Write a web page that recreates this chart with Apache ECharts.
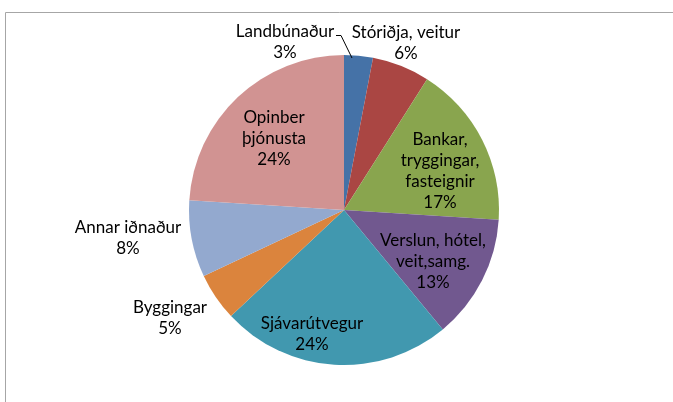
<!DOCTYPE html>
<html>
<head>
<meta charset="utf-8">
<script src="https://cdn.jsdelivr.net/npm/echarts@6/dist/echarts.min.js"></script>
<style>
  html, body { margin: 0; padding: 0; background: #fff; }
  #chart { width: 673px; height: 402px; }
</style>
</head>
<body>
<div id="chart"></div>
<script>
// categories + shares (%)
var categories = [
  'Landbúnaður',
  'Stóriðja, veitur',
  'Bankar,\ntryggingar,\nfasteignir',
  'Verslun, hótel,\nveit,samg.',
  'Sjávarútvegur',
  'Byggingar',
  'Annar iðnaður',
  'Opinber\nþjónusta'
]
var shares = [3, 6, 17, 13, 24, 5, 8, 24]

var colors = ['#4572A7', '#AA4643', '#89A54E', '#71588F', '#4198AF', '#DB843D', '#93A9CF', '#D19392']
// label centres (layout only)
var labelPos = [
  [285, 42], [406, 43], [440, 171], [433, 262],
  [312, 334], [170, 318], [128, 238], [274, 139]
]

var chart = echarts.init(document.getElementById('chart'))
chart.setOption({
  animation: false,
  color: colors,
  graphic: [{
    type: 'rect',
    shape: { x: 5.5, y: 12.5, width: 700, height: 420 },
    style: { fill: 'none', stroke: '#a6a6a6', lineWidth: 1 },
    silent: true
  }, {
    // leader line for the small Landbúnaður slice
    type: 'polyline',
    shape: { points: [[336, 35.5], [341, 35.5], [352, 58]] },
    style: { fill: 'none', stroke: '#000', lineWidth: 1 },
    z: 10,
    silent: true
  }],
  series: [{
    type: 'pie',
    center: [344, 210],
    radius: 155,
    startAngle: 90,
    clockwise: true,
    itemStyle: { borderWidth: 0 },
    label: {
      show: true,
      position: 'outside',
      formatter: '{b}\n{d}%',
      color: '#000',
      fontFamily: 'Lato',
      fontSize: 17,
      lineHeight: 21,
      align: 'center'
    },
    labelLine: { show: false },
    labelLayout: function (p) {
      var pos = labelPos[p.dataIndex]
      return { x: pos[0], y: pos[1], align: 'center', verticalAlign: 'middle' }
    },
    data: categories.map(function (c, i) {
      return { name: c, value: shares[i] }
    })
  }]
})
</script>
</body>
</html>
